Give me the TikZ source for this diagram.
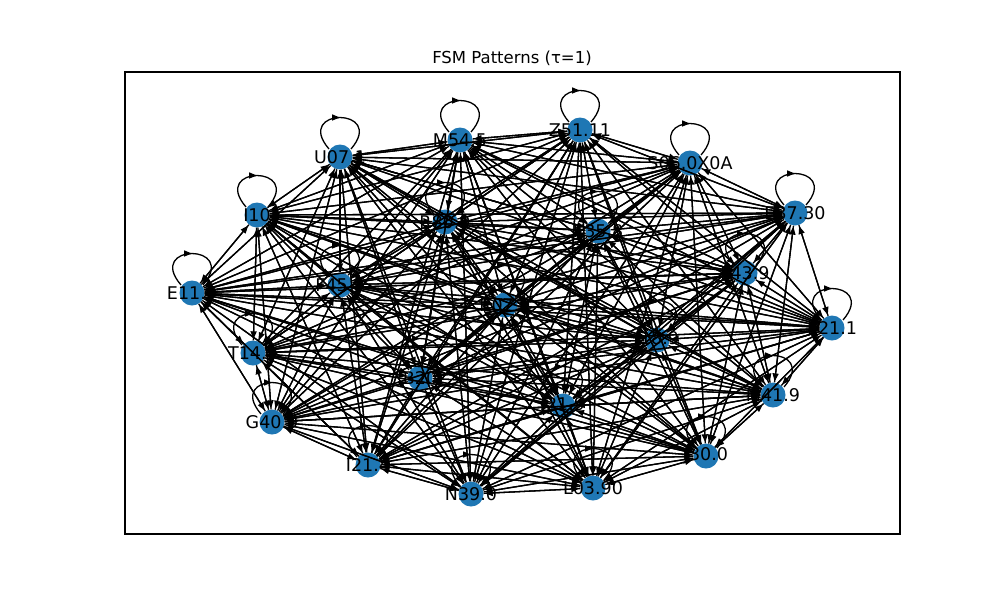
\documentclass[tikz,border=0pt]{standalone}
\usepackage{fontspec}
\setmainfont{DejaVu Sans}
\usetikzlibrary{arrows.meta,decorations.markings,calc}
\definecolor{tabblue}{HTML}{1F77B4}
\tikzset{
  dot/.style={circle,fill=tabblue,draw=none,minimum size=25pt,inner sep=0pt},
  lab/.style={font=\fontsize{17.5}{19}\selectfont,inner sep=0pt},
  ttl/.style={font=\fontsize{16.5}{18}\selectfont,inner sep=0pt},
  edge/.style={line width=1.3pt,-{Triangle[length=8pt,width=6pt]},shorten >=1pt},
  selfloop/.style={line width=1.3pt,postaction={decorate},
    decoration={markings,mark=at position 0.5 with {\arrow{Triangle[length=8pt,width=6pt]}}}},
  frame/.style={line width=1.1pt,draw=black}
}
\begin{document}
\begin{tikzpicture}[x=1pt,y=-1pt]
\useasboundingbox (0,0) rectangle (1000,600);
\draw[frame] (125,72) rectangle (900,534);
\node[ttl] (title) at (512,58) {FSM Patterns (τ=1)};
% nodes
\foreach \n/\x/\y/\t in {
 n1/580/130/Z51.11, n2/690/163/S06.0X0A, n3/460/140/M54.5, n4/340/157/U07.1,
 n5/257/215/I10, n6/192/293/E11.9, n7/340/285/F45.9, n8/445/222/R80.9,
 n9/598/231/K35.8, n10/505/305/R07.9, n11/795/213/E87.30, n12/745/273/F43.9,
 n13/832/328/E21.1, n14/657/340/J18.9, n15/253/353/T14.9, n16/420/378/B20,
 n17/563/406/J21.9, n18/773/395/M41.9, n19/272/422/G40.9, n20/368/465/I21.4,
 n21/471/494/N39.0, n22/593/488/L03.90, n23/706/456/J30.0}{
  \node[dot] (\n) at (\x,\y) {};
  \node[lab] (\n-t) at (\x,\y) {\t};
}
% edges
\foreach \a in {n1,n2,n3,n4,n5,n6,n7,n8,n9,n10,n11,n12,n13,n14,n15,n16,n17,n18,n19,n20,n21,n22,n23}{
  \foreach \b in {n1,n2,n3,n4,n5,n6,n7,n8,n9,n10,n11,n12,n13,n14,n15,n16,n17,n18,n19,n20,n21,n22,n23}{
    \ifx\a\b
      \draw[selfloop] ($(\a)+(-11,-8)$) .. controls +(-36,-42) and +(36,-42) .. ($(\a)+(11,-8)$);
    \else
      \draw[edge] (\a) -- (\b);
    \fi
  }
}
\end{tikzpicture}
\end{document}
